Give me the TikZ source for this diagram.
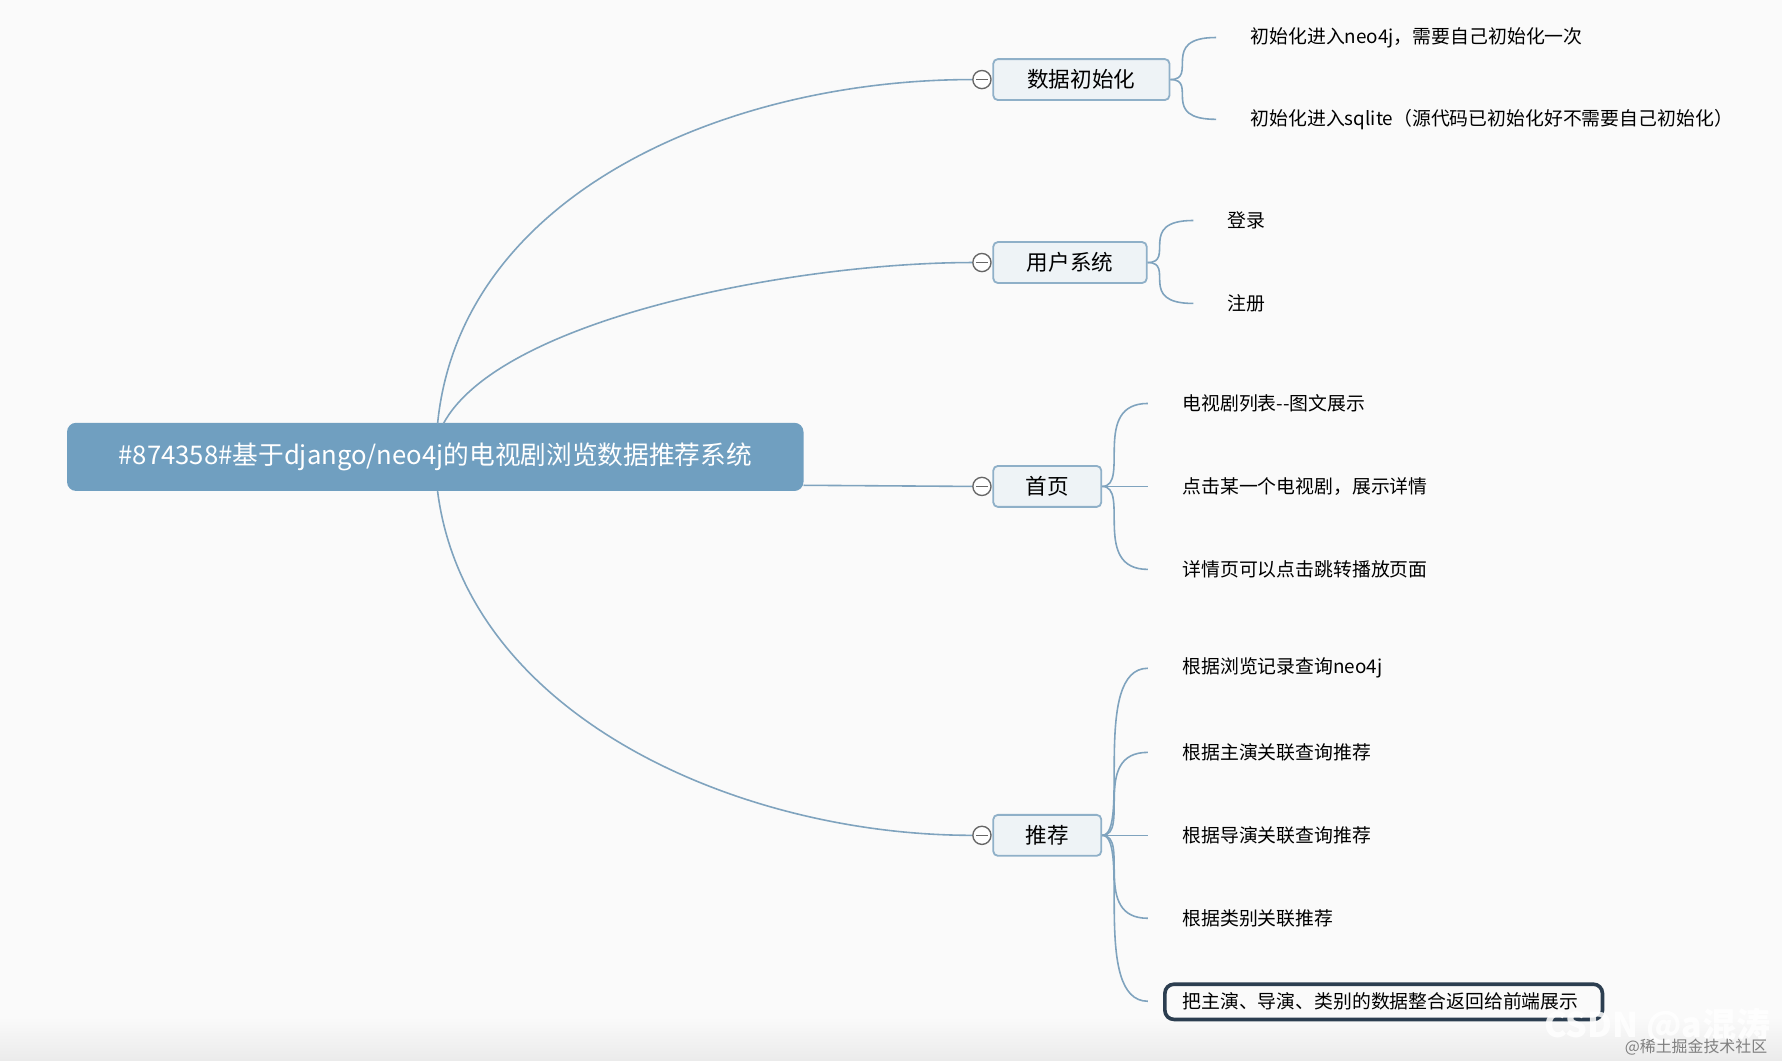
\documentclass[tikz,border=0pt]{standalone}
\usepackage{fontspec}
\setmainfont{Noto Sans CJK SC}
\begin{document}
\begin{tikzpicture}[x=0.5pt,y=-0.5pt,
  ln/.style={draw=linec,line width=0.7pt},
  br/.style={draw=brd,fill=brfill,rounded corners=2pt,line width=0.8pt,font=\fontsize{9.5}{11}\selectfont,minimum height=18pt,inner xsep=0pt},
  lf/.style={anchor=west,font=\fontsize{8.3}{10}\selectfont,inner sep=0pt},
  cc/.style={circle,draw=gray!80!black,fill=white,minimum size=8pt,inner sep=0pt,line width=0.6pt}]
\definecolor{linec}{HTML}{7FA3BE}
\definecolor{brd}{HTML}{8FB0C8}
\definecolor{brfill}{HTML}{EEF3F6}
\definecolor{rootc}{HTML}{709FC0}
\fill[fill={rgb,255:red,250;green,250;blue,250}] (0,0) rectangle (1568,933);
\fill[top color={rgb,255:red,250;green,250;blue,250},bottom color={rgb,255:red,235;green,235;blue,235}] (0,895) rectangle (1568,933);
\useasboundingbox (0,0) rectangle (1568,933);
\node[fill=rootc,rounded corners=4pt,minimum width=324pt,minimum height=30pt,text=white,font=\fontsize{11.3}{13}\selectfont] (root) at (383,402) {\#874358\#基于django/neo4j的电视剧浏览数据推荐系统};
\node[br,minimum width=77.5pt] (b1) at (951.5,70) {数据初始化};
\node[br,minimum width=67.5pt] (b2) at (941.5,231) {用户系统};
\node[br,minimum width=47.5pt] (b3) at (921.5,428) {首页};
\node[br,minimum width=47.5pt] (b4) at (921.5,735) {推荐};
\foreach \b/\y in {1/70,2/231,3/428,4/735}{
  \node[cc] (c\b) at (864,\y) {};
  \draw[gray!80!black,line width=0.6pt] (859,\y) -- (869,\y);
}
\coordinate (r1) at (385,373);
\coordinate (r2) at (390,373);
\coordinate (r3) at (707,427);
\coordinate (r4) at (385,432);
\draw[ln] (r1) .. controls (405,170) and (640,70) .. (c1.west);
\draw[ln] (r2) .. controls (440,280) and (700,231) .. (c2.west);
\draw[ln] (r3) -- (c3.west);
\draw[ln] (r4) .. controls (410,630) and (650,735) .. (c4.west);
% leaves
\node[lf] (l11) at (1100,33) {初始化进入neo4j，需要自己初始化一次};
\node[lf] (l12) at (1100,105) {初始化进入sqlite（源代码已初始化好不需要自己初始化）};
\node[lf] (l21) at (1080,194) {登录};
\node[lf] (l22) at (1080,267) {注册};
\node[lf] (l31) at (1040,355) {电视剧列表{-}{-}图文展示};
\node[lf] (l32) at (1040,428) {点击某一个电视剧，展示详情};
\node[lf] (l33) at (1040,501) {详情页可以点击跳转播放页面};
\node[lf] (l41) at (1040,588) {根据浏览记录查询neo4j};
\node[lf] (l42) at (1040,662) {根据主演关联查询推荐};
\node[lf] (l43) at (1040,735) {根据导演关联查询推荐};
\node[lf] (l44) at (1040,808) {根据类别关联推荐};
\node[lf] (l45) at (1040,881) {把主演、导演、类别的数据整合返回给前端展示};
\draw[draw={rgb,255:red,44;green,62;blue,80},line width=1.6pt,rounded corners=4pt] (1025,866) rectangle (1410,897);
\foreach \b/\l in {1/l11,1/l12,2/l21,2/l22,3/l31,3/l32,3/l33,4/l41,4/l42,4/l43,4/l44,4/l45}{
  \draw[ln] (b\b.east) .. controls +(25,0) and ([xshift=-40]\l.west) .. ([xshift=-15]\l.west);
}
\node[anchor=east,text=white,font=\fontsize{15}{18}\selectfont\bfseries,opacity=0.85] (wm) at (1565,903) {CSDN @a混涛};
\node[anchor=east,text=gray,font=\fontsize{7}{9}\selectfont] (wm2) at (1562,921) {@稀土掘金技术社区};
\end{tikzpicture}
\end{document}
